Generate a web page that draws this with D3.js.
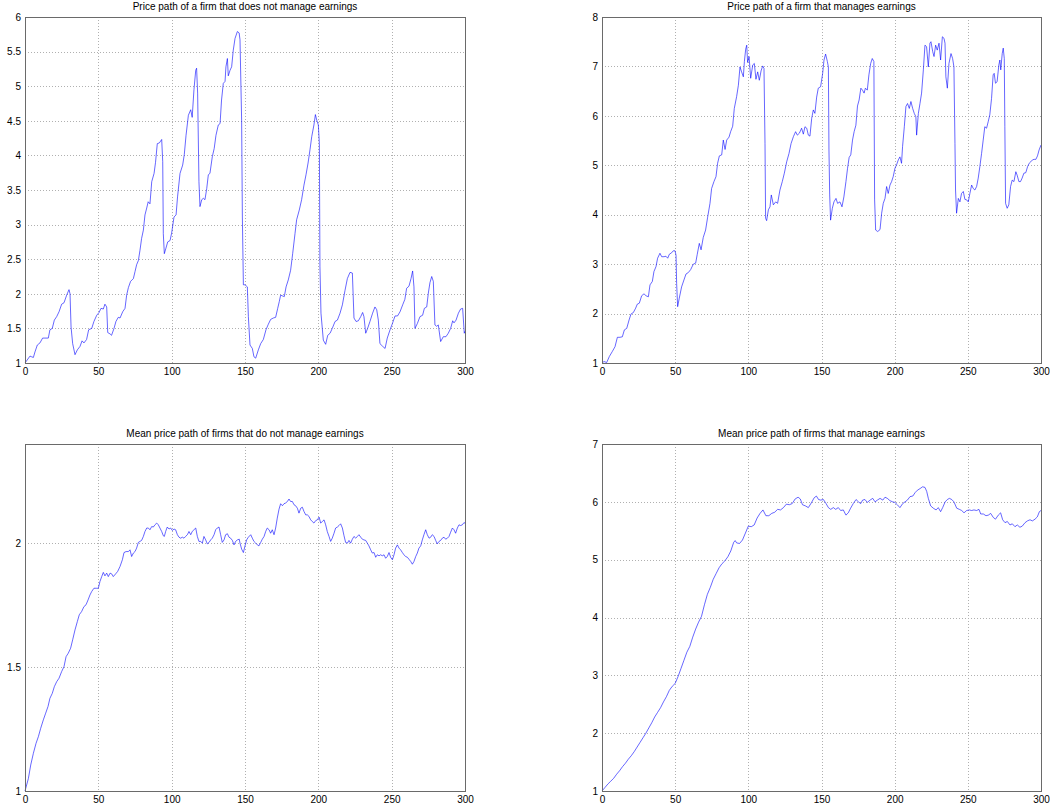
<!DOCTYPE html>
<html>
<head>
<meta charset="utf-8">
<script src="https://d3js.org/d3.v7.min.js"></script>
<style>
  body { margin: 0; background: #fff; }
  text { font-family: "Liberation Sans", Arial, Helvetica, sans-serif; }
</style>
</head>
<body>
<div id="chart"></div>
<script>
// titles of the four panels
const titles = [
    'Price path of a firm that does not manage earnings',
    'Price path of a firm that manages earnings',
    'Mean price path of firms that do not manage earnings',
    'Mean price path of firms that manage earnings'
];

// x ticks (shared)
const xTicks = [0, 50, 100, 150, 200, 250, 300];

// y ticks per panel
const tlTicks = [1, 1.5, 2, 2.5, 3, 3.5, 4, 4.5, 5, 5.5, 6];
const trTicks = [1, 2, 3, 4, 5, 6, 7, 8];
const blTicks = [1, 1.5, 2];
const brTicks = [1, 2, 3, 4, 5, 6, 7];

// price path, firm that does not manage earnings  [period, price]
const tlPath = [
    [0,1.0],[3.4,1.10],[4.5,1.09],[5.7,1.08],[6.8,1.16],[8.4,1.26],[10.2,1.29],[12,1.36],[13.6,1.36],[15.9,1.36],
    [17,1.48],[18.6,1.50],[20,1.62],[21.6,1.67],[23.2,1.74],[25,1.85],[26.6,1.87],[28.4,1.98],[30,2.06],[30.7,2.0],
    [31.4,1.52],[32.5,1.28],[34.1,1.12],[35.7,1.19],[37.5,1.24],[38.9,1.32],[40.2,1.29],[42,1.34],[43.4,1.48],[45.5,1.50],
    [47,1.60],[48.9,1.69],[50.5,1.73],[51.8,1.79],[53.4,1.78],[54.5,1.85],[55.7,1.81],[56.4,1.44],[58,1.42],[59,1.40],
    [60.7,1.50],[62,1.60],[63.6,1.66],[64.8,1.65],[66.6,1.74],[68.2,1.79],[69.3,1.98],[70.5,2.09],[72,2.18],[73.9,2.22],
    [75,2.32],[76.1,2.42],[77.3,2.48],[78.4,2.63],[79.5,2.80],[80.7,2.92],[81.8,3.14],[83,3.24],[84,3.33],[85.2,3.30],
    [86.4,3.62],[88,3.74],[89,3.90],[90.2,4.17],[91.6,4.18],[93.2,4.23],[93.9,3.91],[94.3,2.87],[95,2.58],[96.1,2.66],
    [97.3,2.75],[98.9,2.77],[100,2.88],[101.6,3.11],[103,3.14],[104,3.40],[105.7,3.74],[107.5,3.86],[108.6,4.01],[109.8,4.29],
    [111.4,4.58],[113,4.66],[114,4.55],[115.2,4.95],[116.4,5.23],[117,5.26],[117.7,4.90],[118.6,3.62],[119.3,3.26],[120.5,3.36],
    [121.6,3.38],[122.7,3.36],[123.9,3.52],[125,3.72],[126.1,3.74],[127.7,3.98],[129,4.10],[130.2,4.29],[131.8,4.44],[133,4.46],
    [134,4.80],[135.2,5.04],[136.4,5.07],[137,5.28],[138,5.40],[138.6,5.15],[139.8,5.23],[140.9,5.28],[142,5.52],[143.2,5.69],
    [144.8,5.79],[146,5.77],[146.6,5.67],[147.7,4.51],[148.2,3.11],[148.9,2.13],[150,2.13],[151.6,2.10],[152.3,1.67],[153.4,1.26],
    [155,1.21],[156.1,1.09],[157.3,1.07],[159.1,1.19],[160.7,1.28],[162.5,1.34],[164.3,1.48],[165.9,1.56],[167.5,1.63],[169.3,1.65],
    [170.9,1.66],[172.3,1.79],[173.4,1.89],[174.3,1.98],[175.5,1.97],[176.8,1.96],[178,2.10],[179.5,2.20],[181.1,2.34],[182.5,2.58],
    [184.1,2.87],[185.2,3.07],[187,3.21],[188.6,3.36],[190.2,3.57],[191.6,3.72],[193,3.89],[194.3,4.08],[195.5,4.27],[197,4.44],
    [198,4.59],[198.9,4.51],[200,4.44],[200.7,4.17],[201.1,2.39],[201.8,1.72],[203.4,1.33],[205,1.27],[206.4,1.40],[208,1.43],
    [209.5,1.50],[211.4,1.60],[213,1.62],[214.8,1.72],[216.4,1.84],[218.2,2.05],[219.8,2.22],[221.6,2.31],[223.2,2.30],[224.3,1.65],
    [225.7,1.60],[227.3,1.61],[228.9,1.67],[230.2,1.73],[231.1,1.67],[232.3,1.43],[233.6,1.50],[235.2,1.60],[237,1.72],[238.6,1.81],
    [239.8,1.77],[240.9,1.62],[242,1.28],[243.9,1.24],[245.5,1.21],[247,1.36],[248.9,1.48],[250.5,1.57],[252.3,1.68],[254,1.68],
    [255.7,1.74],[257.5,1.84],[259,1.92],[260.2,2.08],[261.8,2.11],[263.2,2.22],[264.3,2.33],[265.2,2.10],[265.9,1.50],[267.5,1.57],
    [269.3,1.67],[271.1,1.69],[272.3,1.79],[273.9,1.81],[275,2.01],[276.1,2.16],[277.3,2.25],[278.4,2.18],[279.5,1.55],[280.7,1.53],
    [281.8,1.55],[283.4,1.31],[285.2,1.38],[287,1.38],[288.6,1.43],[290.2,1.50],[291.6,1.61],[292.5,1.58],[293.9,1.62],[295.5,1.72],
    [297,1.78],[298.4,1.79],[299.5,1.43],[300,1.46]
];

// price path, firm that manages earnings
const trPath = [
    [0,1.0],[1.4,1.03],[3.2,1.01],[5,1.13],[7,1.23],[8.9,1.33],[10.5,1.52],[12.3,1.52],[13.9,1.53],[15.3,1.67],
    [16.9,1.70],[18.5,1.87],[19.8,1.99],[21.4,2.02],[23,2.11],[24.1,2.19],[25.5,2.21],[27.1,2.36],[28.7,2.40],[30.1,2.36],
    [31.7,2.34],[32.8,2.58],[34.4,2.65],[35.5,2.85],[36.9,2.95],[38,3.12],[39.6,3.22],[40.8,3.15],[42.4,3.15],[43.7,3.16],
    [44.9,3.12],[46,3.20],[47.6,3.23],[48.7,3.27],[49.9,3.27],[50.6,3.18],[51,2.61],[51.7,2.14],[52.8,2.31],[54.4,2.54],
    [56,2.68],[57.4,2.80],[59,2.83],[60.6,2.89],[62.4,3.0],[64,3.02],[65.1,3.20],[66.5,3.42],[67.7,3.29],[69.2,3.54],
    [70.8,3.69],[72.2,3.95],[73.8,4.23],[74.9,4.53],[76.5,4.67],[77.9,4.77],[79,5.04],[80.2,5.19],[81.8,5.21],[82.9,5.51],
    [84.1,5.32],[85.2,5.51],[86.8,5.57],[87.9,5.68],[89.3,5.79],[90.4,6.15],[92,6.39],[93.2,6.62],[94.3,6.99],[95.4,6.89],
    [96.6,6.79],[97.3,7.10],[98.2,7.35],[98.9,7.43],[99.5,7.08],[100.5,7.20],[101.6,6.76],[103,7.03],[104.1,7.06],[105.2,6.74],
    [106.4,6.89],[107.5,6.72],[108.7,6.91],[109.8,7.01],[110.7,6.96],[111.4,5.44],[111.8,3.93],[112.5,3.88],[113.7,4.10],[114.8,4.16],
    [115.7,4.40],[117.1,4.20],[118.7,4.26],[120,4.23],[121.6,4.50],[123.2,4.67],[124.6,4.84],[126.2,5.07],[127.8,5.24],[129.2,5.44],
    [130.8,5.58],[132.3,5.68],[133.5,5.61],[134.9,5.65],[136.4,5.75],[137.6,5.63],[138.7,5.78],[139.9,5.75],[141,5.61],[142.1,5.59],
    [143.3,5.95],[144.4,6.12],[145.5,6.05],[146.7,6.38],[147.8,6.56],[149.4,6.59],[150.8,6.86],[151.7,7.13],[152.8,7.25],[154,7.10],
    [154.7,6.99],[155.1,5.31],[155.6,4.40],[156.2,3.89],[157.4,4.13],[158.5,4.26],[159.9,4.33],[161,4.23],[162.6,4.26],[164,4.16],
    [165.3,4.36],[166.7,4.67],[167.8,4.94],[168.9,5.16],[170,5.21],[171.2,5.51],[172.3,5.68],[173.5,5.81],[174.6,6.20],[175.7,6.32],
    [176.9,6.56],[178,6.52],[179.1,6.46],[180,6.56],[181.3,6.52],[182.4,6.83],[183.6,7.06],[184.7,7.16],[185.8,7.10],[186.3,4.30],
    [187,3.69],[188.4,3.66],[190,3.70],[191.1,4.03],[192.2,4.23],[193.4,4.33],[194.5,4.57],[195.6,4.43],[196.8,4.60],[197.9,4.67],
    [199,4.77],[200.2,4.94],[201.3,5.01],[202.5,5.11],[203.6,5.17],[204.7,5.04],[205.4,5.38],[206.6,5.78],[207.7,6.19],[208.8,6.25],
    [210,6.15],[211.1,6.29],[212.3,6.15],[213.4,6.05],[214.5,5.98],[215,5.61],[216.2,6.05],[217.3,6.25],[218.4,6.46],[219.6,6.93],
    [220.7,7.43],[221.8,7.40],[223,6.99],[224.1,7.47],[224.8,7.50],[226,7.30],[226.9,7.20],[228,7.43],[229.1,7.33],[230.3,7.47],
    [231.4,7.13],[232.6,7.60],[233.7,7.57],[234.4,7.47],[235,6.79],[236,6.56],[237.1,7.06],[238.5,7.26],[239.6,7.16],[240.5,6.99],
    [241.2,5.44],[241.6,4.50],[242.3,4.03],[243.5,4.33],[244.6,4.26],[245.7,4.43],[246.9,4.47],[248,4.31],[249.2,4.30],[250.3,4.26],
    [251.4,4.43],[252.6,4.60],[253.7,4.53],[254.8,4.50],[256,4.57],[257.1,4.74],[258.2,4.97],[259.4,5.24],[260.5,5.51],[261.6,5.78],
    [262.8,5.75],[263.9,5.88],[265,6.02],[266.2,6.35],[267.3,6.83],[268,6.86],[268.9,6.66],[270,6.69],[271.2,7.03],[271.9,7.13],
    [272.5,6.93],[273.5,7.26],[274.2,7.37],[274.9,7.16],[275.3,5.78],[275.8,4.23],[276.9,4.13],[278,4.20],[279.2,4.57],[280.3,4.70],
    [281.5,4.67],[282.8,4.87],[283.7,4.80],[284.9,4.67],[286,4.67],[287.1,4.74],[288.3,4.84],[289.6,4.85],[290.8,4.97],[291.9,5.04],
    [293,5.07],[294.2,5.11],[295.3,5.12],[296.5,5.12],[297.6,5.19],[298.7,5.31],[300,5.41]
];

// mean price path, firms that do not manage earnings
const blPath = [
    [0,1.0],[2.3,1.05],[3.9,1.105],[5.7,1.152],[7.5,1.192],[9.1,1.219],[10.7,1.253],[12.5,1.287],[14.1,1.314],[15.7,1.341],
    [17,1.374],[18.6,1.394],[20,1.421],[21.6,1.441],[23.2,1.455],[25,1.482],[26.6,1.502],[28,1.542],[29.5,1.556],[31.1,1.576],
    [32.5,1.610],[34.1,1.650],[35.7,1.684],[37,1.711],[38.6,1.724],[40.2,1.744],[41.6,1.751],[43,1.771],[44.3,1.791],[45.5,1.805],
    [47,1.818],[48.9,1.818],[50,1.818],[51.1,1.845],[52.3,1.865],[53.4,1.882],[54.5,1.868],[55.7,1.879],[56.8,1.865],[58,1.879],
    [59.1,1.876],[60.2,1.865],[61.8,1.876],[63.2,1.886],[64.8,1.906],[66.4,1.933],[67.5,1.962],[68.9,1.966],[70.5,1.966],[71.6,1.973],
    [72.7,1.946],[73.9,1.960],[75,1.966],[76.1,1.980],[77.3,2.003],[78.4,2.007],[79.5,2.011],[80.7,2.027],[81.8,2.047],[83,2.061],
    [84.1,2.061],[85.2,2.054],[86.4,2.067],[87.5,2.065],[88.6,2.074],[89.8,2.081],[90.9,2.074],[92,2.061],[93.2,2.047],[94.3,2.030],
    [95,2.027],[95.9,2.047],[97,2.065],[98.2,2.057],[99.3,2.061],[100.5,2.051],[101.6,2.057],[102.7,2.054],[103.9,2.034],[105,2.024],
    [106.1,2.020],[107.3,2.024],[108.4,2.020],[109.5,2.027],[110.7,2.034],[111.8,2.047],[113,2.034],[114,2.047],[115.2,2.054],[116.4,2.061],
    [117.5,2.027],[118.6,2.007],[119.8,2.007],[120.9,2.0],[122,2.027],[123.2,2.013],[124.3,1.997],[125.5,2.003],[126.6,2.013],[127.7,2.020],
    [128.9,2.034],[130,2.054],[131.1,2.061],[132.3,2.065],[133.4,2.034],[134.5,2.003],[135.7,2.013],[136.8,2.034],[138,2.038],[139.1,2.024],
    [140.2,2.020],[141.4,2.011],[142.5,1.993],[143.6,2.007],[144.8,2.013],[146.1,2.016],[146.6,2.0],[147.7,1.976],[148.9,1.962],[150,1.989],
    [151.1,2.013],[152.3,2.024],[153.9,2.034],[155,2.020],[156.1,2.007],[157.3,2.0],[158.4,1.993],[159.5,1.989],[160.7,2.003],[161.8,2.016],
    [163,2.027],[164.1,2.047],[165.2,2.061],[166.4,2.054],[167.5,2.040],[168.6,2.054],[169.8,2.034],[170.9,2.061],[172,2.101],[173.2,2.137],
    [174.3,2.159],[175.5,2.151],[176.6,2.159],[177.7,2.162],[178.9,2.168],[180,2.178],[181.1,2.168],[182.3,2.168],[183.4,2.155],[184.5,2.151],
    [185.7,2.141],[186.8,2.121],[188,2.141],[189.1,2.145],[190.2,2.128],[191.4,2.114],[192.5,2.114],[193.6,2.108],[194.8,2.094],[195.9,2.087],
    [197,2.081],[198.2,2.091],[199.3,2.094],[200.5,2.105],[201.6,2.081],[202.7,2.087],[203.9,2.094],[205,2.074],[206.1,2.047],[207.3,2.027],
    [208.4,2.007],[209.5,2.020],[210.7,2.040],[211.8,2.061],[213,2.065],[214.1,2.071],[215.2,2.078],[216.4,2.061],[217.5,2.030],[218.6,2.003],
    [219.8,2.0],[220.9,2.011],[222,2.0],[223.2,2.016],[224.3,2.027],[225.5,2.020],[226.6,2.027],[227.7,2.034],[228.9,2.024],[230,2.016],
    [231.1,2.013],[232.3,2.011],[233.4,2.0],[234.5,1.989],[235.7,1.973],[236.8,1.960],[238,1.962],[239.1,1.943],[240.2,1.953],[241.4,1.949],
    [242.5,1.953],[243.6,1.949],[244.8,1.953],[245.9,1.939],[247,1.946],[248.2,1.962],[249.3,1.943],[250.5,1.933],[251.6,1.953],[252.7,1.980],
    [253.9,1.993],[255,1.980],[256.1,1.973],[257.3,1.962],[258.4,1.953],[259.5,1.946],[260.7,1.943],[261.8,1.935],[263,1.926],[264.1,1.915],
    [265.2,1.926],[266.4,1.946],[267.5,1.960],[268.6,1.980],[269.8,1.989],[270.9,2.013],[272,2.034],[273.2,2.054],[274.3,2.034],[275.5,2.020],
    [276.6,2.024],[277.7,2.034],[278.9,2.027],[280,2.011],[281.1,1.997],[282.3,2.007],[283.4,2.011],[284.5,2.020],[285.7,2.024],[286.8,2.016],
    [288,2.020],[289.1,2.027],[290.2,2.044],[291.4,2.061],[292.5,2.054],[293.6,2.040],[294.8,2.061],[295.9,2.074],[297,2.071],[298.2,2.074],
    [299.3,2.083],[300,2.08]
];

// mean price path, firms that manage earnings
const brPath = [
    [0,1.0],[2,1.06],[4,1.12],[6,1.17],[8,1.22],[10,1.29],[12,1.35],[14,1.42],[16,1.48],[18,1.55],
    [20,1.61],[22,1.68],[24,1.76],[26,1.84],[28,1.92],[30,2.0],[32,2.09],[34,2.18],[36,2.28],[38,2.36],
    [40,2.44],[42,2.54],[44,2.63],[46,2.74],[48,2.81],[50,2.86],[52,2.98],[54,3.12],[56,3.26],[58,3.40],
    [60,3.50],[62,3.66],[64,3.80],[66,3.92],[68,4.02],[70,4.22],[72,4.40],[74,4.52],[76,4.66],[78,4.76],
    [80,4.86],[82,4.93],[84,4.98],[86,5.05],[88,5.15],[90,5.30],[91,5.33],[92,5.29],[94,5.28],[96,5.34],
    [98,5.46],[100,5.58],[102,5.57],[104,5.60],[106,5.72],[108,5.80],[110,5.86],[112,5.76],[114,5.76],[116,5.80],
    [118,5.82],[120,5.87],[122,5.86],[124,5.90],[126,5.96],[128,5.95],[130,5.97],[132,6.05],[134,6.08],[135.5,6.05],
    [137,5.95],[139,5.93],[141,5.90],[143,5.98],[145,6.07],[146.5,6.10],[148,6.04],[149.4,6.03],[151.3,6.04],[153.1,5.97],
    [154.7,5.90],[156.3,5.87],[158.1,5.90],[159.7,5.87],[161.5,5.90],[163.1,5.85],[164.9,5.86],[166.7,5.77],[168.3,5.81],[169.9,5.89],
    [171.7,5.97],[173.6,6.04],[175.2,6.0],[176.8,5.97],[178.1,6.03],[179.7,6.04],[181.3,5.99],[183.2,6.03],[185,6.06],[186.6,6.0],
    [188.2,6.03],[190,6.06],[191.9,6.03],[193.4,6.08],[195,6.06],[196.8,6.02],[198.6,6.0],[200.2,5.99],[201.8,5.95],[203.6,5.90],
    [205.5,5.97],[207.1,6.0],[208.7,6.03],[210.5,6.09],[212.4,6.10],[214,6.16],[215.5,6.20],[217.4,6.23],[219.1,6.26],[220.7,6.25],
    [221.9,6.18],[223,6.06],[224.6,5.93],[226.4,5.89],[228.3,5.86],[229.8,5.90],[231.4,5.83],[232.8,5.90],[234.5,6.0],[236,6.04],
    [237.4,6.06],[239,6.04],[240.5,6.0],[242.4,5.89],[244.2,5.87],[245.8,5.85],[247.4,5.81],[249.2,5.85],[251,5.86],[252.6,5.85],
    [254.2,5.86],[256,5.85],[257.6,5.87],[258.8,5.79],[260.6,5.79],[262.4,5.76],[264,5.77],[265.6,5.80],[267.4,5.73],[268.9,5.70],
    [270.8,5.77],[272.4,5.81],[273.8,5.69],[275.4,5.64],[277,5.66],[278.8,5.60],[280.4,5.62],[282.2,5.57],[283.8,5.60],[285.6,5.56],
    [287.2,5.58],[289.1,5.64],[290.7,5.67],[292.5,5.69],[294.1,5.67],[295.9,5.70],[297.5,5.74],[298.9,5.83],[300,5.85]
];

const W = 1050, H = 809;

// panel layout
const panels = [
    { title: titles[0], path: tlPath, yTicks: tlTicks, yDomain: [1, 6], left: 25, right: 465, top: 17, bottom: 363, titleY: 9.5 },
    { title: titles[1], path: trPath, yTicks: trTicks, yDomain: [1, 8], left: 602, right: 1041, top: 17, bottom: 363, titleY: 9.5 },
    { title: titles[2], path: blPath, yTicks: blTicks, yDomain: [1, 2.4], left: 25, right: 465, top: 444, bottom: 791, titleY: 437 },
    { title: titles[3], path: brPath, yTicks: brTicks, yDomain: [1, 7], left: 602, right: 1041, top: 444, bottom: 791, titleY: 437 }
];

const svg = d3.select('#chart')
    .append('svg')
    .attr('width', W)
    .attr('height', H)
    .attr('xmlns', 'http://www.w3.org/2000/svg');

svg.append('rect').attr('width', W).attr('height', H).attr('fill', '#fff');

panels.forEach(p => {
    const x = d3.scaleLinear().domain([0, 300]).range([p.left, p.right]);
    const y = d3.scaleLinear().domain(p.yDomain).range([p.bottom, p.top]);
    const g = svg.append('g');

    // grid
    g.append('g')
        .selectAll('line')
        .data(xTicks.filter(t => t > 0 && t < 300))
        .join('line')
        .attr('x1', d => Math.round(x(d)) + 0.5)
        .attr('x2', d => Math.round(x(d)) + 0.5)
        .attr('y1', p.top)
        .attr('y2', p.bottom)
        .attr('stroke', '#b0b0b0')
        .attr('stroke-width', 1)
        .attr('stroke-dasharray', '1,2');

    g.append('g')
        .selectAll('line')
        .data(p.yTicks.filter(t => t > p.yDomain[0] && t < p.yDomain[1]))
        .join('line')
        .attr('x1', p.left)
        .attr('x2', p.right)
        .attr('y1', d => Math.round(y(d)) + 0.5)
        .attr('y2', d => Math.round(y(d)) + 0.5)
        .attr('stroke', '#b0b0b0')
        .attr('stroke-width', 1)
        .attr('stroke-dasharray', '1,2');

    // line
    const line = d3.line()
        .x(d => x(d[0]))
        .y(d => y(d[1]));

    g.append('path')
        .datum(p.path)
        .attr('d', line)
        .attr('fill', 'none')
        .attr('stroke', '#0000ff')
        .attr('stroke-width', 0.6)
        .attr('stroke-linejoin', 'round');

    // axes
    const xAxis = g.append('g')
        .attr('transform', `translate(0,${p.bottom})`)
        .call(d3.axisBottom(x).tickValues(xTicks).tickSize(0).tickPadding(5).tickFormat(d3.format('d')));
    const yAxis = g.append('g')
        .attr('transform', `translate(${p.left},0)`)
        .call(d3.axisLeft(y).tickValues(p.yTicks).tickSize(0).tickPadding(4).tickFormat(d3.format('~g')));

    [xAxis, yAxis].forEach(a => {
        a.select('.domain').remove();
        a.selectAll('text')
            .style('font-size', '10px')
            .attr('fill', '#000');
    });

    // box
    g.append('rect')
        .attr('x', p.left + 0.5)
        .attr('y', p.top + 0.5)
        .attr('width', p.right - p.left)
        .attr('height', p.bottom - p.top)
        .attr('fill', 'none')
        .attr('stroke', '#6a6a6a')
        .attr('stroke-width', 1);

    // title
    svg.append('text')
        .attr('x', (p.left + p.right) / 2)
        .attr('y', p.titleY)
        .attr('text-anchor', 'middle')
        .style('font-size', '10px')
        .attr('fill', '#000')
        .text(p.title);
});
</script>
</body>
</html>
